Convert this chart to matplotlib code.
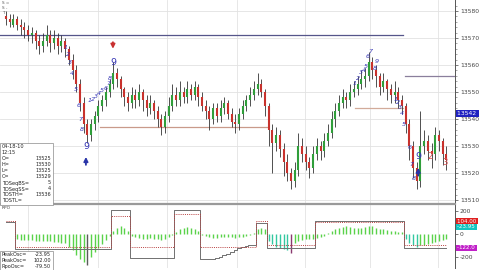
import numpy as np
import matplotlib.pyplot as plt
import matplotlib.transforms as mtransforms
from matplotlib.patches import Rectangle

# ---- price bars (5 min) ----
opens = [13578, 13577, 13575, 13577, 13575, 13574, 13573, 13571, 13572, 13569,
         13567, 13569, 13571, 13568, 13570, 13567, 13569, 13566, 13562, 13558,
         13553, 13546, 13538, 13534, 13538, 13541, 13545, 13547, 13550, 13553,
         13557, 13555, 13551, 13548, 13546, 13549, 13547, 13550, 13547, 13544,
         13546, 13543, 13540, 13537, 13541, 13545, 13549, 13547, 13550, 13548,
         13551, 13549, 13552, 13548, 13545, 13543, 13540, 13544, 13541, 13544,
         13546, 13542, 13539, 13538, 13542, 13545, 13547, 13549, 13551, 13553,
         13550, 13545, 13536, 13531, 13534, 13529, 13524, 13520, 13517, 13521,
         13530, 13527, 13524, 13522, 13527, 13530, 13528, 13532, 13535, 13540,
         13543, 13546, 13548, 13547, 13550, 13551, 13553, 13555, 13556, 13561,
         13558, 13556, 13552, 13554, 13551, 13549, 13550, 13547, 13545, 13538,
         13530, 13522, 13517, 13530, 13532, 13528, 13527, 13534, 13532, 13527]
closes = [13577, 13576, 13577, 13575, 13574, 13573, 13571, 13572, 13569, 13567,
          13569, 13571, 13568, 13570, 13567, 13569, 13566, 13562, 13558, 13553,
          13546, 13538, 13534, 13538, 13541, 13545, 13547, 13550, 13553, 13557,
          13555, 13551, 13548, 13546, 13549, 13547, 13550, 13547, 13544, 13546,
          13543, 13540, 13537, 13541, 13545, 13549, 13547, 13550, 13548, 13551,
          13549, 13552, 13548, 13545, 13543, 13540, 13544, 13541, 13544, 13546,
          13542, 13539, 13538, 13542, 13545, 13547, 13549, 13551, 13553, 13550,
          13545, 13536, 13531, 13534, 13529, 13524, 13520, 13517, 13521, 13530,
          13527, 13524, 13522, 13527, 13530, 13528, 13532, 13535, 13540, 13543,
          13546, 13548, 13547, 13550, 13551, 13553, 13555, 13556, 13561, 13558,
          13556, 13552, 13554, 13551, 13549, 13550, 13547, 13545, 13538, 13530,
          13522, 13517, 13530, 13532, 13528, 13527, 13534, 13532, 13527, 13525]
highs = [13580, 13579, 13579, 13578, 13577, 13576, 13575, 13574, 13573, 13571,
         13572, 13575, 13573, 13573, 13572, 13571, 13570, 13567, 13564, 13560,
         13555, 13548, 13540, 13540, 13543, 13547, 13549, 13552, 13555, 13561,
         13559, 13556, 13552, 13550, 13552, 13551, 13553, 13551, 13549, 13549,
         13547, 13545, 13542, 13543, 13548, 13553, 13552, 13554, 13552, 13554,
         13553, 13554, 13553, 13550, 13547, 13545, 13546, 13546, 13547, 13548,
         13547, 13544, 13542, 13544, 13547, 13549, 13552, 13554, 13557, 13555,
         13551, 13546, 13538, 13537, 13536, 13531, 13527, 13522, 13524, 13535,
         13533, 13530, 13526, 13530, 13533, 13532, 13535, 13538, 13543, 13546,
         13549, 13551, 13550, 13553, 13554, 13556, 13558, 13559, 13565, 13563,
         13560, 13557, 13557, 13555, 13553, 13554, 13552, 13549, 13546, 13540,
         13532, 13524, 13543, 13536, 13534, 13531, 13537, 13536, 13533, 13530]
lows = [13575, 13574, 13574, 13573, 13571, 13570, 13569, 13568, 13566, 13564,
        13565, 13567, 13565, 13566, 13564, 13565, 13563, 13560, 13555, 13550,
        13543, 13535, 13531, 13532, 13536, 13539, 13543, 13545, 13548, 13551,
        13552, 13548, 13545, 13543, 13544, 13544, 13545, 13543, 13541, 13542,
        13540, 13537, 13534, 13535, 13539, 13543, 13545, 13545, 13546, 13546,
        13547, 13547, 13545, 13543, 13540, 13536, 13538, 13539, 13539, 13542,
        13540, 13537, 13535, 13536, 13540, 13543, 13545, 13547, 13549, 13548,
        13541, 13530, 13520, 13528, 13526, 13519, 13517, 13514, 13515, 13519,
        13524, 13521, 13518, 13520, 13525, 13525, 13526, 13530, 13533, 13537,
        13541, 13544, 13544, 13545, 13548, 13549, 13551, 13552, 13554, 13555,
        13552, 13549, 13550, 13547, 13546, 13546, 13544, 13542, 13535, 13525,
        13518, 13514, 13515, 13527, 13525, 13522, 13525, 13528, 13523, 13521]

# TDST / support-resistance levels (price, first bar, last bar)
lvl_price = [13571.1, 13556, 13544, 13537]
lvl_from = [-1.6, 107.8, 94.3, 25.4]
lvl_to = [107.3, 121.3, 107.3, 70.8]
lvl_color = ['#55558a', '#8a7f9c', '#d2ab9a', '#c99a8a']

# TD sequential counts
td_text = ['1', '2', '3', '4', '5', '6', '7', '8',
           '1', '2', '3', '4', '5', '6', '7', '8',
           '1', '2', '3', '4', '5', '6', '7', '8', '9',
           '1', '2', '3', '4', '5', '6', '7', '8']
td_x = [16.0, 16.7, 17.4, 17.8, 18.8, 19.5, 20.0, 20.5,
        22.7, 23.5, 24.3, 25.1, 25.9, 26.8, 27.6, 28.1,
        94.3, 95.1, 95.9, 96.8, 97.3, 97.8, 98.6, 99.7, 100.3,
        105.4, 105.9, 106.5, 107.0, 107.6, 109.2, 109.7, 110.3]
td_y = [13566.5, 13564, 13561, 13557, 13551, 13545, 13540, 13536,
        13546.7, 13547.4, 13548.5, 13549.3, 13550.4, 13551.5, 13553, 13555.2,
        13553, 13555.2, 13557.4, 13558.1, 13559.6, 13563.3, 13565.2, 13558.9, 13561.5,
        13547.4, 13546, 13544.4, 13541.9, 13537.8, 13529.3, 13523, 13518.1]
nine_x = [21.6, 28.9, 111.4]
nine_y = [13530, 13561.1, 13526]
cd_text = ['2', '3']
cd_x = [114.6, 118.6]
cd_y = [13526, 13524]
arrow_x = [21.6, 28.9, 111.4]
arrow_from = [13522.0, 13569.5, 13518.0]
arrow_to = [13527.0, 13565.0, 13523.0]

# ---- RPO indicator ----
hist = [0, 0, 0, -45, -50, -50, -55, -55, -60, -60,
        -62, -65, -65, -70, -70, -75, -80, -110, -140, -180,
        -215, -245, -270, -200, -160, -120, -85, -50, -20, 30,
        55, 65, 50, 30, -20, -30, -35, -40, -40, -35,
        -40, -45, -50, -40, -30, -10, 20, 40, 55, 60,
        55, 40, 25, -10, -20, -30, -35, -35, -30, -30,
        -25, -30, -35, -30, -25, -15, -5, 10, 40, 55,
        45, -60, -90, -110, -120, -130, -140, -165, -80, -60,
        -50, -40, -45, -40, -35, -30, -20, 10, 25, 40,
        55, 60, 65, 60, 55, 50, 55, 60, 70, 65,
        55, 45, 40, 35, 30, 25, 20, 15, -40, -80,
        -100, -110, -100, -95, -90, -80, -70, -60, -50, -40]
upper = [100, 100, 100, -130, -130, -130, -130, -130, -130, -130,
         -130, -130, -130, -130, -130, -130, -130, -130, -130, -130,
         -130, -130, -130, -130, -130, -130, -130, -130, -130, 205,
         205, 205, 205, 205, -210, -210, -210, -210, -210, -210,
         -210, -210, -210, -210, -210, -210, 205, 205, 205, 205,
         205, 205, 205, -215, -215, -215, -215, -210, -200, -185,
         -170, -155, -140, -125, -115, -105, -100, -100, 95, 95,
         95, -122, -122, -122, -122, -122, -122, -122, -122, -122,
         -122, -122, -122, -122, 110, 110, 110, 110, 110, 110,
         110, 110, 110, 110, 110, 110, 110, 110, 110, 110,
         110, 110, 110, 110, 110, 110, 110, 110, -122, -122,
         -122, -122, -122, -122, -122, -122, -122, -122, -122, -122]
signal = [110, 110, 110, -115, -115, -115, -115, -115, -115, -115,
          -115, -115, -115, -115, -115, -115, -115, -115, -115, -115,
          -115, -115, -115, -115, -115, -115, -115, -115, -115, 160,
          160, 160, 160, 160, -110, -110, -110, -110, -110, -110,
          -110, -110, -110, -110, -110, -110, 170, 170, 170, 170,
          170, 170, 170, -110, -110, -110, -110, -110, -110, -110,
          -110, -110, -110, -110, -110, -110, -110, -110, 110, 110,
          110, -96, -96, -96, -96, -96, -96, -96, -96, -96,
          -96, -96, -96, -96, 100, 100, 100, 100, 100, 100,
          100, 100, 100, 100, 100, 100, 100, 100, 100, 100,
          100, 100, 100, 100, 100, 100, 100, 100, -96, -96,
          -96, -96, -96, -96, -96, -96, -96, -96, -96, -96]

info_labels = ['04-18-10', '12:15', 'O=', 'H=', 'L=', 'C=', 'TDSeqBS=', 'TDSeqSS=', 'TDSTH=', 'TDSTL=']
info_values = ['', '', '13525', '13530', '13525', '13529', '5', '4', '13536', '']
osc_labels = ['PeakOsc=', 'PeakOsc=', 'RpoOsc=']
osc_values = ['-23.95', '102.00', '-79.50']

W, H = 480, 270


def px_box(x0, y0, x1, y1):
    return [x0 / W, 1 - y1 / H, (x1 - x0) / W, (y1 - y0) / H]


fig = plt.figure(figsize=(4.8, 2.7), dpi=100)
ax = fig.add_axes(px_box(0, 0, 455, 203))
ax2 = fig.add_axes(px_box(0, 205, 455, 268))

o = np.array(opens)
c = np.array(closes)
idx = np.arange(len(c))
up = c >= o
vgrid = [6, 25, 43.5, 62.4, 80.8, 98.4, 116.8]

for a in (ax, ax2):
    a.set_xlim(-1.62, 121.35)
    a.set_xticks([])
    for s in ('top', 'left', 'bottom'):
        a.spines[s].set_visible(False)
    a.spines['right'].set_color('#555555')
    a.spines['right'].set_linewidth(0.7)
    a.yaxis.tick_right()
    a.tick_params(axis='y', labelsize=4.3, length=2, width=0.5, colors='#444444', pad=1.5)
    for g in vgrid:
        a.axvline(g, color='#e3e3e3', lw=0.6, zorder=0)

# price panel
ax.set_ylim(13508.9, 13584.1)
ax.set_yticks(range(13510, 13581, 10))
ax.set_yticks(np.arange(13510, 13584, 2), minor=True)
ax.tick_params(axis='y', which='minor', length=1.2, width=0.4, colors='#666666')
ax.grid(axis='y', color='#e2e2e2', lw=0.6)
ax.set_axisbelow(True)

for p, x0, x1, col in zip(lvl_price, lvl_from, lvl_to, lvl_color):
    ax.plot([x0, x1], [p, p], color=col, lw=0.9, zorder=2)

ax.vlines(idx, lows, highs, color='#333333', lw=0.6, zorder=3)
ax.vlines(idx[up], o[up], c[up], color='#2f9e3a', lw=1.5, zorder=4)
ax.vlines(idx[~up], c[~up], o[~up], color='#c8322d', lw=1.5, zorder=4)

for t, x, y in zip(td_text, td_x, td_y):
    ax.text(x, y, t, fontsize=4.6, style='italic', color='#3535b5', ha='center', va='center', zorder=6)
for x, y in zip(nine_x, nine_y):
    ax.text(x, y, '9', fontsize=6.8, color='#3535b5', ha='center', va='center', zorder=6)
for t, x, y in zip(cd_text, cd_x, cd_y):
    ax.text(x, y, t, fontsize=6, color='#d85050', ha='center', va='center', zorder=6)
for x, y0, y1 in zip(arrow_x, arrow_from, arrow_to):
    col = '#2a35a8' if y1 > y0 else '#c83030'
    ax.annotate('', xy=(x, y1), xytext=(x, y0),
                arrowprops=dict(arrowstyle='-|>', color=col, lw=1.3, mutation_scale=6), zorder=6)

blend = mtransforms.blended_transform_factory(ax.transAxes, ax.transData)
ax.text(1.004, 13542, '13542 ', transform=blend, fontsize=4.3, color='white', ha='left', va='center',
        bbox=dict(boxstyle='square,pad=0.15', fc='#1f22c0', ec='none'), clip_on=False, zorder=7)

# indicator panel
ax2.set_ylim(-296, 252)
ax2.set_yticks([200, 0, -200])
ax2.set_yticklabels(['200', '0', '-200'])
cols = ['#5ad24a'] * len(hist)
for k in (71, 72, 73, 74, 75, 76, 108, 109, 110, 111):
    cols[k] = '#33c8a0'
cols[22] = '#5a5a5a'
cols[77] = '#8a3a70'
ax2.vlines(idx, 0, hist, colors=cols, lw=1.0, zorder=3)
ax2.step(idx, upper, where='mid', color='#707070', lw=0.7, zorder=4)
ax2.step(idx, signal, where='mid', color='#b84040', lw=0.7, ls=(0, (1, 1.2)), zorder=4)

blend2 = mtransforms.blended_transform_factory(ax2.transAxes, ax2.transData)
for val, txt, fc in [(112, '104.00 ', '#e02020'), (62, '-23.95 ', '#12c4c0'),
                     (-122, '-122.0 ', '#c020c8')]:
    ax2.text(1.004, val, txt, transform=blend2, fontsize=4.0, color='white', ha='left', va='center',
             bbox=dict(boxstyle='square,pad=0.12', fc=fc, ec='none'), clip_on=False, zorder=7)

# separator between panels
fig.add_artist(plt.Line2D([0, 455 / W], [1 - 204 / H] * 2, color='#9a9a9a', lw=1.6))

# info boxes
fig.add_artist(Rectangle((0.001, 1 - 205 / H), 53 / W, 62 / H, transform=fig.transFigure,
                         fc='white', ec='#8a8a8a', lw=0.5, zorder=8))
for k, (lab, val) in enumerate(zip(info_labels, info_values)):
    yy = 1 - (147 + 6 * k) / H
    fig.text(2 / W, yy, lab, fontsize=3.6, color='#222222', va='center', zorder=9)
    fig.text(51 / W, yy, val, fontsize=3.6, color='#222222', va='center', ha='right', zorder=9)

fig.add_artist(Rectangle((0.001, 0), 53 / W, 19 / H, transform=fig.transFigure,
                         fc='white', ec='#8a8a8a', lw=0.5, zorder=8))
for k, (lab, val) in enumerate(zip(osc_labels, osc_values)):
    yy = 1 - (254.5 + 6 * k) / H
    fig.text(2 / W, yy, lab, fontsize=3.6, color='#222222', va='center', zorder=9)
    fig.text(51 / W, yy, val, fontsize=3.6, color='#222222', va='center', ha='right', zorder=9)

fig.text(2 / W, 1 - 208 / H, 'RPO', fontsize=3.2, color='#444444', va='center')
for k, t in enumerate(['S =', 'S -', 'T -']):
    fig.text(2 / W, 1 - (3 + 5 * k) / H, t, fontsize=3.0, color='#555555', va='center')

fig.savefig('out.png', dpi=100, facecolor='white')
